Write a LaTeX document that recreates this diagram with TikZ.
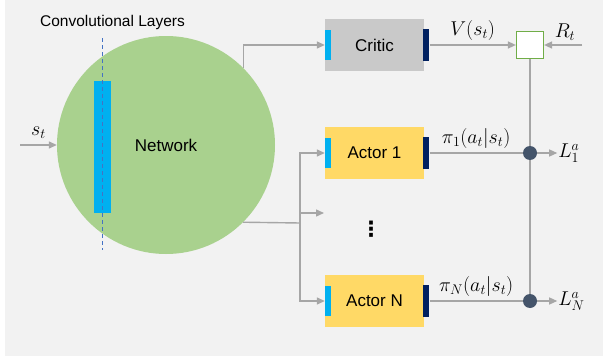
\RequirePackage{fix-cm}
\documentclass[tikz,border=0pt]{standalone}
\usepackage[no-math]{fontspec}
\setmainfont{Liberation Sans}
\newfontfamily\dotsfont{DejaVu Sans}
\usepackage{tikz}
\usetikzlibrary{positioning,arrows.meta}

\definecolor{panelgray}{HTML}{F2F2F2}
\definecolor{netgreen}{HTML}{A9D18E}
\definecolor{convblue}{HTML}{00B0F0}
\definecolor{cutblue}{HTML}{4472C4}
\definecolor{criticgray}{HTML}{C9C9C9}
\definecolor{actoryellow}{HTML}{FFD966}
\definecolor{outnavy}{HTML}{002060}
\definecolor{sumgreen}{HTML}{70AD47}
\definecolor{dotslate}{HTML}{44546A}
\definecolor{wiregray}{HTML}{A6A6A6}

\tikzset{
  line/.style={draw=wiregray, line width=1.4pt},
  wire/.style={line, -{Triangle[length=8pt,width=7pt]}},
  block/.style={rectangle, minimum width=99pt, minimum height=52pt,
    inner sep=0pt, font=\fontsize{17}{20}\selectfont},
  inbar/.style={fill=convblue, minimum width=6pt, minimum height=30pt,
    inner sep=0pt, anchor=west},
  outbar/.style={fill=outnavy, minimum width=6pt, minimum height=32pt,
    inner sep=0pt, anchor=west},
  lbl/.style={font=\fontsize{20}{24}\selectfont},
  junction/.style={circle, fill=dotslate, minimum size=14pt, inner sep=0pt},
}

\begin{document}
\begin{tikzpicture}[x=1pt,y=-1pt]
  \useasboundingbox (0,0) rectangle (603,356);
  \fill[panelgray] (5,0) rectangle (603,356);

  % network with its convolutional layers
  \node[circle, fill=netgreen, minimum size=218pt, inner sep=0pt,
        font=\fontsize{17}{20}\selectfont] (net) at (166,145) {Network};
  \node[fill=convblue, minimum width=17pt, minimum height=132pt,
        inner sep=0pt] (conv) at (102.5,147) {};
  \coordinate (cuttop) at (102,38);
  \coordinate (cutbot) at (102,250);
  \draw[cutblue, line width=1pt, dash pattern=on 4pt off 3pt] (cuttop) -- (cutbot);
  \node[font=\fontsize{15.5}{18}\selectfont] (convlbl) at (112.5,22) {Convolutional Layers};

  % heads
  \node[block, fill=criticgray]  (critic) at (374.5,45)  {Critic};
  \node[block, fill=actoryellow] (actor1) at (374.5,153) {Actor 1};
  \node[block, fill=actoryellow] (actorN) at (374.5,301) {Actor N};
  \node[font=\dotsfont\bfseries\fontsize{21}{24}\selectfont] (more) at (371,229) {⋮};

  \node[inbar]  (criticin)  at (critic.west) {};
  \node[outbar] (criticout) at ([xshift=-1pt]critic.east) {};
  \node[inbar]  (actor1in)  at (actor1.west) {};
  \node[outbar] (actor1out) at ([xshift=-1pt]actor1.east) {};
  \node[inbar]  (actorNin)  at (actorN.west) {};
  \node[outbar] (actorNout) at ([xshift=-1pt]actorN.east) {};

  % advantage and losses
  \node[draw=sumgreen, fill=white, line width=1.2pt, minimum size=27pt,
        inner sep=0pt] (sum) at (530,45) {};
  \coordinate (rin) at (582,45);
  \draw[line] (sum.south) -- (530,301);
  \node[junction] (dot1) at (530,153) {};
  \node[junction] (dotN) at (530,301) {};
  \node[lbl, right=20pt of dot1, inner sep=1pt] (l1) {$L_1^a$};
  \node[lbl, right=20pt of dotN, inner sep=1pt] (lN) {$L_N^a$};

  % input
  \coordinate (sin) at (20,145);
  \draw[wire] (sin) -- node[lbl, above=2pt]{$s_t$} (net.west);

  % network to heads
  \coordinate (split) at (300,223);
  \coordinate (morein) at (324,213);
  \draw[wire] (net.45) |- (critic.west);
  \draw[line] (net.-45) -- (split);
  \draw[wire] (split) |- (actor1.west);
  \draw[wire] (split) |- (actorN.west);
  \draw[wire] (split |- morein) -- (morein);

  % heads to losses
  \path
    (criticout.east) edge[wire] node[lbl, above]{$V(s_t)$} (sum.west)
    (rin) edge[wire] node[lbl, above, pos=.45]{$R_t$} (sum.east)
    (dot1) edge[wire] (l1)
    (dotN) edge[wire] (lN);
  \draw[line] (actor1out.east) -- node[lbl, above]{$\pi_1(a_t|s_t)$} (dot1);
  \draw[line] (actorNout.east) -- node[lbl, above]{$\pi_N(a_t|s_t)$} (dotN);
\end{tikzpicture}
\end{document}
